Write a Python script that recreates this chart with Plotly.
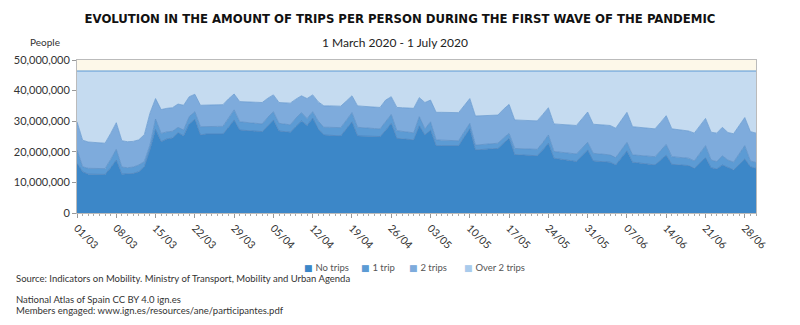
import pandas as pd
import plotly.graph_objects as go

# Daily dates: 1 March 2020 - 30 June 2020
dates = pd.date_range("2020-03-01", "2020-06-30", freq="D")

# Stacked levels (millions of people), top of each band
level_no_trips = [
    16.3, 13.5, 12.7, 12.7, 12.7, 12.6, 14.8,
    17.3, 12.7, 12.7, 12.9, 13.5, 15.1, 20.6,
    27.3, 23.3, 24.2, 24.5, 26.3, 25.2, 29.1,
    30.6, 25.5, 25.8, 25.8, 25.8, 25.8, 28.0,
    30.4, 27.1, 27.0, 26.9, 26.8, 26.6, 28.5,
    30.4, 26.8, 26.6, 26.4, 28.3, 30.1, 28.6,
    31.0, 27.5, 25.5, 25.4, 25.3, 25.2, 27.5,
    29.8, 25.2, 25.1, 25.1, 25.0, 25.0, 27.0,
    29.3, 24.4, 24.2, 24.0, 23.9, 28.5, 25.5,
    27.1, 22.0, 22.0, 22.0, 22.0, 22.0, 24.8,
    27.5, 20.6, 20.8, 20.9, 21.0, 21.1, 22.8,
    24.4, 19.1, 19.0, 18.9, 18.8, 18.7, 20.6,
    22.8, 17.9, 17.7, 17.4, 17.1, 16.8, 18.8,
    20.6, 17.0, 16.9, 16.7, 16.6, 15.7, 18.0,
    20.3, 16.6, 16.4, 16.1, 15.9, 15.7, 17.3,
    18.9, 15.9, 15.8, 15.6, 15.5, 14.6, 16.4,
    18.1, 14.8, 14.4, 15.7, 14.8, 14.1, 15.9,
    17.7, 15.1, 14.6,
]
level_1_trip = [
    20.6, 15.1, 14.6, 14.6, 14.6, 14.5, 17.5,
    20.8, 15.0, 14.8, 15.0, 15.7, 16.8, 22.2,
    30.7, 26.0, 26.5, 26.7, 28.0, 27.1, 31.5,
    33.1, 28.2, 28.3, 28.3, 28.3, 28.3, 31.0,
    33.7, 29.8, 29.6, 29.5, 29.3, 29.1, 31.3,
    33.1, 29.3, 29.0, 28.8, 31.0, 32.8, 30.9,
    33.1, 30.0, 28.0, 28.0, 28.0, 27.9, 30.3,
    32.8, 28.0, 27.8, 27.7, 27.6, 27.5, 29.8,
    32.2, 26.9, 26.7, 26.5, 26.2, 31.5, 27.5,
    29.8, 23.9, 23.8, 23.7, 23.6, 23.6, 26.5,
    29.3, 22.2, 22.4, 22.5, 22.6, 22.8, 24.5,
    26.0, 21.1, 21.0, 20.9, 20.9, 20.8, 23.0,
    25.5, 20.1, 19.9, 19.7, 19.5, 19.3, 21.2,
    23.1, 19.5, 19.3, 19.1, 19.0, 18.1, 20.6,
    23.1, 19.0, 18.8, 18.6, 18.5, 18.4, 20.4,
    22.4, 18.4, 18.3, 18.1, 17.9, 17.0, 19.5,
    22.0, 17.3, 16.8, 18.7, 17.3, 16.6, 19.3,
    22.0, 17.0, 16.5,
]
level_2_trips = [
    29.8, 23.8, 23.2, 23.1, 23.1, 22.8, 26.0,
    29.5, 23.6, 23.3, 23.4, 23.9, 25.6, 32.6,
    37.4, 33.8, 34.2, 34.4, 35.6, 35.2, 38.0,
    38.8, 35.2, 35.3, 35.3, 35.3, 35.4, 37.3,
    38.9, 36.4, 36.3, 36.3, 36.2, 36.1, 37.5,
    38.6, 36.1, 36.0, 35.9, 37.2, 38.3, 37.4,
    38.6, 36.3, 35.0, 35.0, 35.0, 34.9, 36.6,
    38.3, 35.0, 34.8, 34.7, 34.6, 34.5, 36.9,
    38.0, 34.5, 34.4, 34.3, 34.2, 37.7, 36.1,
    36.9, 32.9, 32.9, 32.8, 32.8, 32.8, 35.1,
    37.4, 31.7, 31.8, 31.8, 31.9, 32.0, 33.9,
    35.5, 30.4, 30.3, 30.2, 30.2, 30.1, 32.2,
    34.4, 29.1, 29.0, 28.9, 28.7, 28.6, 30.8,
    33.0, 29.0, 28.8, 28.7, 28.6, 27.7, 30.3,
    32.9, 28.2, 28.0, 27.8, 27.6, 27.5, 29.6,
    31.8, 27.5, 27.3, 27.0, 26.8, 26.1, 28.5,
    30.9, 26.4, 26.1, 28.0, 26.3, 25.9, 28.5,
    31.2, 26.6, 26.1,
]
level_total = [
    46.4, 46.4, 46.4, 46.4, 46.4, 46.4, 46.4,
    46.4, 46.4, 46.4, 46.4, 46.4, 46.4, 46.4,
    46.4, 46.4, 46.4, 46.4, 46.4, 46.4, 46.4,
    46.4, 46.4, 46.4, 46.4, 46.4, 46.4, 46.4,
    46.3, 46.4, 46.4, 46.4, 46.4, 46.4, 46.4,
    46.4, 46.4, 46.4, 46.4, 46.4, 46.4, 46.4,
    46.4, 46.4, 46.4, 46.4, 46.4, 46.4, 46.4,
    46.4, 46.4, 46.4, 46.4, 46.4, 46.4, 46.4,
    46.4, 46.4, 46.4, 46.4, 46.4, 46.4, 46.4,
    46.4, 46.4, 46.4, 46.4, 46.4, 46.4, 46.4,
    46.4, 46.4, 46.4, 46.4, 46.4, 46.4, 46.4,
    46.4, 46.4, 46.4, 46.4, 46.4, 46.4, 46.4,
    46.4, 46.4, 46.4, 46.4, 46.4, 46.4, 46.4,
    46.4, 46.4, 46.4, 46.4, 46.4, 46.4, 46.4,
    46.4, 46.4, 46.4, 46.4, 46.4, 46.4, 46.4,
    46.4, 46.4, 46.4, 46.4, 46.4, 46.4, 46.4,
    46.3, 46.3, 46.3, 46.3, 46.4, 46.4, 46.4,
    46.4, 46.4, 46.4,
]

series_names = ["No trips", "1 trip", "2 trips", "Over 2 trips"]
series_levels = [level_no_trips, level_1_trip, level_2_trips, level_total]
fill_colors = ["#3c87c8", "#5c9bd4", "#7eabdc", "#c5dbf0"]
line_colors = ["#4a82bd", "#5a8fc8", "#6a9cd2", "#5b97d3"]
legend_marker_colors = ["#3c87c8", "#5c9bd4", "#7eabdc", "#a9cbec"]
legend_x_px = [302, 359, 407, 462]

tick_labels = ["01/03", "08/03", "15/03", "22/03", "29/03", "05/04", "12/04",
               "19/04", "26/04", "03/05", "10/05", "17/05", "24/05", "31/05",
               "07/06", "14/06", "21/06", "28/06"]
tick_dates = pd.date_range("2020-03-01", periods=len(tick_labels), freq="7D")

FONT = "Lato, 'Open Sans', sans-serif"

fig = go.Figure()
for i, (name, lev) in enumerate(zip(series_names, series_levels)):
    fig.add_trace(go.Scatter(
        x=dates, y=[v * 1e6 for v in lev], name=name, mode="lines",
        line=dict(color=line_colors[i], width=0.8 if i < 3 else 1.2),
        fill="tozeroy" if i == 0 else "tonexty",
        fillcolor=fill_colors[i], hoverinfo="skip", showlegend=False,
    ))

L, R, T, B = 77, 44, 60, 112
W, H = 800, 325
pw, ph = W - L - R, H - T - B

def px(x):
    return (x - L) / pw

def py(y):
    return (H - B - y) / ph

annotations = [
    dict(text="1 March 2020 - 1 July 2020", xref="paper", yref="paper",
         x=px(395), y=py(43), xanchor="center", yanchor="middle", showarrow=False,
         font=dict(size=12, color="#222")),
    dict(text="People", xref="paper", yref="paper",
         x=px(45), y=py(42), xanchor="center", yanchor="middle", showarrow=False,
         font=dict(size=10, color="#333")),
    dict(text="Source: Indicators on Mobility. Ministry of Transport, Mobility and Urban Agenda",
         xref="paper", yref="paper", x=px(14), y=py(278), xanchor="left", yanchor="middle",
         showarrow=False, font=dict(size=9.5, color="#333")),
    dict(text="National Atlas of Spain CC BY 4.0 ign.es",
         xref="paper", yref="paper", x=px(14), y=py(299), xanchor="left", yanchor="middle",
         showarrow=False, font=dict(size=9.5, color="#333")),
    dict(text="Members engaged: www.ign.es/resources/ane/participantes.pdf",
         xref="paper", yref="paper", x=px(14), y=py(310), xanchor="left", yanchor="middle",
         showarrow=False, font=dict(size=9.5, color="#333")),
]
for name, col, lx in zip(series_names, legend_marker_colors, legend_x_px):
    annotations.append(dict(
        text=f"<span style='color:{col};font-family:DejaVu Sans;font-size:9px'>■ </span>{name}",
        xref="paper", yref="paper", x=px(lx), y=py(267), xanchor="left", yanchor="middle",
        showarrow=False, font=dict(size=9.5, color="#555")))

fig.update_layout(
    width=W, height=H,
    margin=dict(l=L, r=R, t=T, b=B, pad=0),
    paper_bgcolor="white", plot_bgcolor="#fdf8e9",
    font=dict(family=FONT, size=11, color="#333"),
    title=dict(text="<b>EVOLUTION IN THE AMOUNT OF TRIPS PER PERSON DURING THE FIRST WAVE OF THE PANDEMIC</b>",
               x=0.5, xanchor="center", y=1 - 18 / H, yanchor="middle", yref="container",
               font=dict(family="'DejaVu Sans Condensed', " + FONT, size=13, color="#111")),
    showlegend=False,
    xaxis=dict(type="date", range=[dates[0], dates[-1]],
               tickvals=tick_dates, ticktext=tick_labels, tickangle=45,
               ticks="outside", ticklen=4, tickcolor="#999",
               minor=dict(ticks="outside", ticklen=2, tickcolor="#aaa", dtick=86400000),
               showgrid=False, showline=True, linecolor="#bbb", mirror=True,
               tickfont=dict(size=10.5, color="#333")),
    yaxis=dict(range=[0, 50e6], dtick=10e6, tickformat=",", showgrid=False,
               ticks="outside", ticklen=4, tickcolor="#999",
               showline=True, linecolor="#bbb", mirror=True, zeroline=False,
               tickfont=dict(size=11, color="#333")),
    annotations=annotations,
)

fig.write_html("out.html")
